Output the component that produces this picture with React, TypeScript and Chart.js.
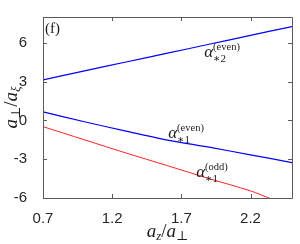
import React, { useEffect, useRef } from "react";
import { Chart, registerables } from "chart.js";
Chart.register(...registerables);

// Data
const xEven = [0.7, 1.0, 1.3, 1.6, 1.9, 2.2, 2.5];
const alpha2Even = [3.14, 3.83, 4.52, 5.2, 5.89, 6.58, 7.26];
const alpha1Even = [0.66, -0.1, -0.83, -1.52, -2.07, -2.66, -3.26];
const xOdd = [0.7, 1.0, 1.3, 1.6, 1.9, 2.2, 2.35];
const alpha1Odd = [-0.48, -1.5, -2.52, -3.5, -4.5, -5.45, -6.07];

const xTicks = [0.7, 1.2, 1.7, 2.2];
const xTickLabels = ["0.7", "1.2", "1.7", "2.2"];
const yTicks = [-6, -3, 0, 3, 6];
const yTickLabels = ["-6", "-3", "0", "3", "6"];

// Curve labels: [x, y] in data units, subscript, superscript
const curveLabels = [
  { x: 1.865, y: 4.9, sub: "\u22172", sup: "(even)" },
  { x: 1.605, y: -1.38, sub: "\u22171", sup: "(even)" },
  { x: 1.807, y: -4.34, sub: "\u22171", sup: "(odd)" },
];
const panelLabel = "(f)";

const SERIF = '"Liberation Serif", "DejaVu Serif", serif';

function drawRuns(ctx: CanvasRenderingContext2D, runs: { t: string; f: string; dy: number }[], x: number, y: number, align: "left" | "center") {
  let total = 0;
  for (const r of runs) {
    ctx.font = r.f;
    total += ctx.measureText(r.t).width;
  }
  let cx = align === "center" ? x - total / 2 : x;
  ctx.textAlign = "left";
  ctx.textBaseline = "alphabetic";
  for (const r of runs) {
    ctx.font = r.f;
    ctx.fillText(r.t, cx, y + r.dy);
    cx += ctx.measureText(r.t).width;
  }
}

const decoPlugin = {
  id: "deco",
  afterDraw(chart: any) {
    const ctx: CanvasRenderingContext2D = chart.ctx;
    const { left, right, top, bottom } = chart.chartArea;
    const xs = chart.scales.x;
    const ys = chart.scales.y;
    ctx.save();
    // Box
    ctx.strokeStyle = "#5a5a5a";
    ctx.lineWidth = 1;
    ctx.beginPath();
    ctx.rect(Math.round(left) + 0.5, Math.round(top) + 0.5, Math.round(right - left), Math.round(bottom - top));
    ctx.stroke();
    // Inward ticks
    ctx.beginPath();
    const tl = 4;
    for (const v of xTicks) {
      const px = Math.round(xs.getPixelForValue(v)) + 0.5;
      ctx.moveTo(px, bottom);
      ctx.lineTo(px, bottom - tl);
      ctx.moveTo(px, top);
      ctx.lineTo(px, top + tl);
    }
    for (const v of yTicks) {
      const py = Math.round(ys.getPixelForValue(v)) + 0.5;
      ctx.moveTo(left, py);
      ctx.lineTo(left + tl, py);
      ctx.moveTo(right, py);
      ctx.lineTo(right - tl, py);
    }
    ctx.stroke();

    ctx.fillStyle = "#1a1a1a";
    // Curve labels
    for (const l of curveLabels) {
      const px = xs.getPixelForValue(l.x);
      const py = ys.getPixelForValue(l.y);
      ctx.font = "italic 17px " + SERIF;
      ctx.textAlign = "left";
      ctx.textBaseline = "alphabetic";
      ctx.fillText("\u03b1", px, py);
      const w = ctx.measureText("\u03b1").width;
      ctx.font = "11px " + SERIF;
      ctx.fillText(l.sub, px + w, py + 5);
      ctx.font = "10.5px " + SERIF;
      ctx.fillText(l.sup, px + w, py - 7);
    }
    // Panel label
    ctx.font = "15px " + SERIF;
    ctx.fillText(panelLabel, left + 2, top + 16);

    // x-axis title
    const big = "italic 19px " + SERIF;
    const small = "italic 13px " + SERIF;
    const up = "19px " + SERIF;
    const smallUp = "13px " + SERIF;
    drawRuns(
      ctx,
      [
        { t: "a", f: big, dy: 0 },
        { t: "z", f: small, dy: 3 },
        { t: "/", f: up, dy: 0 },
        { t: "a", f: big, dy: 0 },
        { t: "\u22a5", f: smallUp, dy: 3 },
      ],
      (left + right) / 2,
      237,
      "center"
    );
    // y-axis title
    ctx.save();
    ctx.translate(17, (top + bottom) / 2);
    ctx.rotate(-Math.PI / 2);
    drawRuns(
      ctx,
      [
        { t: "a", f: big, dy: 0 },
        { t: "\u22a5", f: smallUp, dy: 3 },
        { t: "/", f: up, dy: 0 },
        { t: "a", f: big, dy: 0 },
        { t: "\u03be", f: small, dy: 3 },
      ],
      0,
      0,
      "center"
    );
    ctx.restore();
    ctx.restore();
  },
};

export default function App() {
  const ref = useRef<HTMLCanvasElement>(null);
  useEffect(() => {
    document.body.style.margin = "0";
    const chart = new Chart(ref.current!, {
      type: "line",
      data: {
        datasets: [
          {
            data: xEven.map((x, i) => ({ x, y: alpha2Even[i] })),
            borderColor: "#0000ff",
            borderWidth: 1.2,
            pointRadius: 0,
            tension: 0.3,
          },
          {
            data: xEven.map((x, i) => ({ x, y: alpha1Even[i] })),
            borderColor: "#0000ff",
            borderWidth: 1.2,
            pointRadius: 0,
            tension: 0.3,
          },
          {
            data: xOdd.map((x, i) => ({ x, y: alpha1Odd[i] })),
            borderColor: "#ff2020",
            borderWidth: 1,
            pointRadius: 0,
            tension: 0.3,
          },
        ],
      },
      plugins: [decoPlugin],
      options: {
        responsive: false,
        animation: false,
        layout: { padding: { left: 0, top: 4, right: 8, bottom: 0 } },
        plugins: { legend: { display: false }, tooltip: { enabled: false } },
        scales: {
          x: {
            type: "linear",
            min: 0.7,
            max: 2.5,
            grid: { display: false },
            border: { display: false },
            afterBuildTicks: (s: any) => {
              s.ticks = xTicks.map((v) => ({ value: v }));
            },
            afterFit: (s: any) => {
              s.height = 46;
            },
            ticks: {
              padding: 4,
              maxRotation: 0,
              autoSkip: false,
              color: "#262626",
              font: { family: '"Liberation Sans", Arial, sans-serif', size: 15 },
              callback: (v: any) => xTickLabels[xTicks.indexOf(Number(v))] ?? "",
            },
          },
          y: {
            type: "linear",
            min: -6,
            max: 8,
            grid: { display: false },
            border: { display: false },
            afterBuildTicks: (s: any) => {
              s.ticks = yTicks.map((v) => ({ value: v }));
            },
            afterFit: (s: any) => {
              s.width = 43;
            },
            ticks: {
              padding: 8,
              autoSkip: false,
              color: "#262626",
              font: { family: '"Liberation Sans", Arial, sans-serif', size: 15 },
              callback: (v: any) => yTickLabels[yTicks.indexOf(Number(v))] ?? "",
            },
          },
        },
      },
    } as any);
    return () => chart.destroy();
  }, []);
  return <canvas ref={ref} width={300} height={244} style={{ display: "block" }} />;
}
